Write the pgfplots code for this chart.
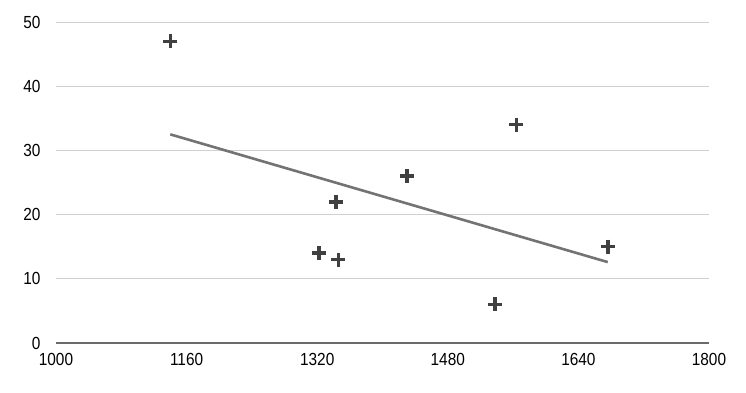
\documentclass[border=0pt]{standalone}
\usepackage{pgfplots}
\pgfplotsset{compat=1.18}
\usepackage{fontspec}
\setmainfont{Liberation Sans}
\newfontfamily\tickfont[FakeStretch=0.88]{Liberation Sans}
\definecolor{gridc}{HTML}{D0D0D0}
\definecolor{axc}{HTML}{6A6A6A}
\definecolor{markc}{HTML}{404040}
\definecolor{trendc}{HTML}{737373}
\begin{document}
\begin{tikzpicture}[x=1pt,y=1pt]
\path[use as bounding box] (-56pt,-49pt) rectangle (690pt,343pt);
\begin{axis}[
  scale only axis,
  width=653pt, height=321pt,
  xmin=1000, xmax=1800, ymin=0, ymax=50,
  xtick={1000,1160,1320,1480,1640,1800},
  ytick={0,10,20,30,40,50},
  /pgf/number format/assume math mode=true,
  /pgf/number format/set thousands separator={},
  axis line style={draw=none},
  axis x line*=bottom,
  axis y line*=left,
  tick style={draw=none},
  ymajorgrids,
  grid style={gridc, line width=1pt},
  tick label style={font=\tickfont\fontsize{17.5}{20}\selectfont, text=black},
  xticklabel style={yshift=-7pt},
  yticklabel style={xshift=-12pt},
  clip=false,
]
\addplot[axc, line width=1.6pt, forget plot] coordinates {(1000,0) (1800,0)};
\addplot[only marks, mark=+, mark size=7pt, mark options={line width=3.5pt, color=markc}] coordinates {
(1140,47) (1343,22) (1322,14) (1346,13) (1430,26) (1564,34) (1538,6) (1676,15)
};
\addplot[trendc, line width=2.6pt] coordinates {(1140,32.5) (1676,12.6)};
\end{axis}
\end{tikzpicture}
\end{document}
